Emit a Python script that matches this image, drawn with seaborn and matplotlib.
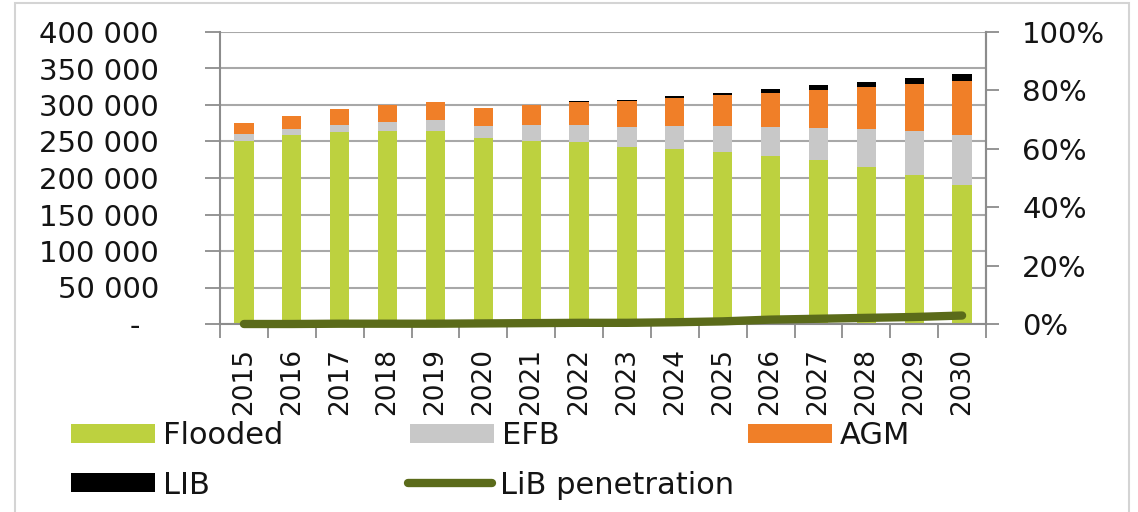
import matplotlib
matplotlib.use("Agg")
import matplotlib.pyplot as plt
import seaborn as sns
import numpy as np
import pandas as pd
from matplotlib import font_manager
from matplotlib.patches import Patch, Rectangle
from matplotlib.lines import Line2D
from matplotlib.ticker import FixedLocator

# ---------------- data ----------------
years = [str(y) for y in range(2015, 2031)]
flooded = [251000, 259000, 263000, 264000, 264000, 255000, 251000, 249000,
           243000, 240000, 236000, 230000, 224000, 215000, 204000, 190000]
efb = [9000, 8000, 10000, 13000, 15000, 16000, 21000, 23000,
       27000, 31000, 35000, 40000, 45000, 52000, 60000, 69000]
agm = [15000, 18000, 21000, 23000, 25000, 25000, 28000, 32000,
       36000, 39000, 43000, 47000, 52000, 58000, 65000, 74000]
lib = [0, 0, 0, 0, 0, 500, 500, 1000, 1000, 2000, 3000, 5000, 6000, 7000, 8000, 10000]
lib_penetration = [0.0, 0.0, 0.1, 0.1, 0.1, 0.2, 0.3, 0.4,
                   0.4, 0.6, 0.9, 1.5, 1.8, 2.1, 2.4, 2.9]  # percent

left_ticks = [0, 50000, 100000, 150000, 200000, 250000, 300000, 350000, 400000]
left_tick_labels = ["-  ", "50 000", "100 000", "150 000", "200 000",
                    "250 000", "300 000", "350 000", "400 000"]
right_ticks = [0, 0.2, 0.4, 0.6, 0.8, 1.0]
right_tick_labels = ["0%", "20%", "40%", "60%", "80%", "100%"]

series_names = ["Flooded", "EFB", "AGM", "LIB", "LiB penetration"]

# ---------------- style ----------------
C_FLOODED = "#bdd13f"
C_EFB = "#c8c8c8"
C_AGM = "#f07f28"
C_LIB = "#000000"
C_LINE = "#5b6b1a"
C_AXIS = "#8c8c8c"
C_GRID = "#a8a8a8"
C_TEXT = "#141414"

sns.set_theme(style="white")
plt.rcParams["font.family"] = ["DejaVu Sans"]

available = {f.name for f in font_manager.fontManager.ttflist}
narrow = [f for f in ["Liberation Sans Narrow", "DejaVu Sans Condensed"] if f in available] + ["DejaVu Sans"]

W, H = 1138, 512
fig = plt.figure(figsize=(W / 100, H / 100), dpi=100)
fig.patch.set_facecolor("white")

ax = fig.add_axes([220 / W, 1 - 324 / H, (986 - 220) / W, (324 - 32) / H])

df = pd.DataFrame({"year": years, "Flooded": flooded, "EFB": efb, "AGM": agm, "LIB": lib})
df["c1"] = df["Flooded"]
df["c2"] = df["c1"] + df["EFB"]
df["c3"] = df["c2"] + df["AGM"]
df["c4"] = df["c3"] + df["LIB"]

for col, color in [("c4", C_LIB), ("c3", C_AGM), ("c2", C_EFB), ("c1", C_FLOODED)]:
    sns.barplot(data=df, x="year", y=col, color=color, width=0.4, saturation=1,
                errorbar=None, ax=ax, edgecolor="none", linewidth=0)

ax.set_xlim(-0.5, len(years) - 0.5)
ax.set_ylim(0, 400000)
ax.set_yticks(left_ticks)
ax.set_yticklabels(left_tick_labels)
ax.yaxis.grid(True, color=C_GRID, lw=1.5)
ax.xaxis.grid(False)
ax.set_axisbelow(True)
ax.set_xlabel("")
ax.set_ylabel("")

ax.set_xticks(range(len(years)))
ax.set_xticklabels(years, rotation=90, fontfamily=narrow, fontsize=19, color=C_TEXT)
ax.tick_params(axis="x", which="major", length=0, pad=17)
ax.xaxis.set_minor_locator(FixedLocator(np.arange(-0.5, len(years), 1.0)))
ax.tick_params(axis="x", which="minor", bottom=True, length=10, width=1.3,
               color=C_AXIS, direction="out")
ax.tick_params(axis="y", left=True, direction="out", length=11, width=1.3,
               color=C_AXIS, pad=33, labelsize=21, labelcolor=C_TEXT)

ax.spines["top"].set_visible(False)
for s in ["left", "right", "bottom"]:
    ax.spines[s].set_color(C_AXIS)
    ax.spines[s].set_linewidth(1.5)

ax2 = ax.twinx()
sns.lineplot(x=np.arange(len(years)), y=np.array(lib_penetration) / 100, ax=ax2,
             color=C_LINE, lw=6, solid_capstyle="round", clip_on=False)
ax2.set_xlim(-0.5, len(years) - 0.5)
ax2.set_ylim(0, 1)
ax2.set_yticks(right_ticks)
ax2.set_yticklabels(right_tick_labels)
ax2.grid(False)
ax2.set_ylabel("")
ax2.tick_params(axis="y", right=True, direction="out", length=9, width=1.3,
                color=C_AXIS, pad=17, labelsize=21, labelcolor=C_TEXT)
for s in ["left", "top", "bottom"]:
    ax2.spines[s].set_visible(False)
ax2.spines["right"].set_color(C_AXIS)
ax2.spines["right"].set_linewidth(1.5)

# ---------------- legend ----------------
handles = [Patch(facecolor=C_FLOODED, edgecolor="none"),
           Patch(facecolor=C_EFB, edgecolor="none"),
           Patch(facecolor=C_AGM, edgecolor="none"),
           Patch(facecolor=C_LIB, edgecolor="none"),
           Line2D([0], [0], color=C_LINE, lw=6)]
anchors = [(71, 436), (410, 436), (748, 436), (71, 485), (408, 485)]
for h, lab, (px, py) in zip(handles, series_names, anchors):
    fig.legend([h], [lab], loc="center left", bbox_to_anchor=(px / W, 1 - py / H),
               frameon=False, borderpad=0, borderaxespad=0, handlelength=2.75,
               handleheight=0.56, handletextpad=0.26, fontsize=22, labelcolor=C_TEXT)

# outer frame
fig.add_artist(Rectangle((15 / W, -0.2), (1129 - 15) / W, 1.2 - 3 / H,
                         transform=fig.transFigure, fill=False,
                         edgecolor="#d4d4d4", lw=1.5))

fig.savefig("out.png", dpi=100)
